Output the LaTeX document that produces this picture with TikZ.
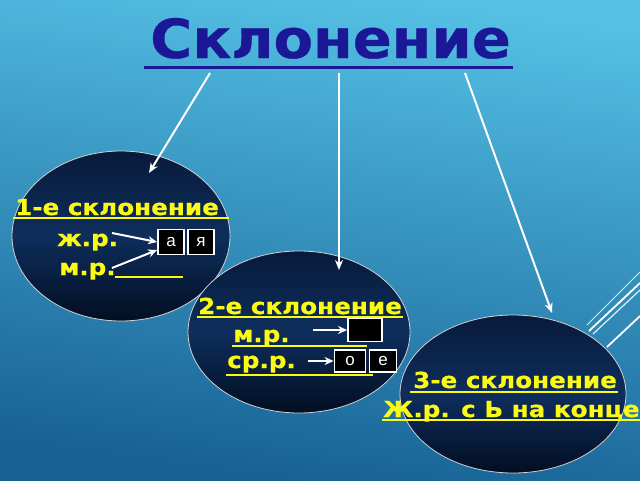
\documentclass[tikz,border=0pt]{standalone}
\usepackage{fontspec}
\setmainfont{DejaVu Sans}
\newfontfamily\titlefont{DejaVu Sans}[UprightFont={* Bold}, FakeStretch=1.065, FakeBold=0.6]
\newfontfamily\labelfont{DejaVu Sans}[UprightFont={* Bold}, FakeStretch=1.12, FakeBold=0.5]
\newfontfamily\boxfont{Liberation Sans}
\usetikzlibrary{arrows.meta,shapes.geometric}

\definecolor{skytop}{RGB}{84,192,228}
\definecolor{skybot}{RGB}{22,96,148}
\definecolor{navytop}{RGB}{8,26,58}
\definecolor{navymid}{RGB}{14,46,92}
\definecolor{navybot}{RGB}{3,14,34}
\definecolor{titleblue}{RGB}{26,24,150}
\definecolor{caseyellow}{RGB}{250,250,20}

\begin{document}
\begin{tikzpicture}[x=1pt,y=-1pt,
  caseoval/.style={ellipse, draw=gray!35, line width=0.8pt, inner sep=0pt, outer sep=0pt,
    top color=navytop, bottom color=navybot, middle color=navymid},
  caselabel/.style={anchor=base west, inner sep=0pt, text=caseyellow,
    font=\labelfont\fontsize{22}{22}\selectfont},
  letterbox/.style={draw=white, line width=1.8pt, fill=black, text=white, inner sep=0pt,
    font=\boxfont\fontsize{17}{17}\selectfont, minimum width=26pt, minimum height=25pt},
  whitearrow/.style={draw=white, line width=2pt, -{Stealth[length=10pt,width=8pt]}},
  smallarrow/.style={draw=white, line width=2pt, -{Stealth[length=9pt,width=8pt]}},
  blankline/.style={draw=caseyellow, line width=1.5pt}
]
% фон слайда
\useasboundingbox (0,0) rectangle (640,480);
\shade[top color=skytop, bottom color=skybot, shading angle=-8] (0,0) rectangle (640,480);
\draw[white!80!cyan, line width=0.8pt] (587,325) -- (640,272);
\draw[white, line width=1.8pt] (589,331) -- (640,283);
\draw[white!85!cyan, line width=1.2pt] (593,334) -- (640,290);
\draw[white, line width=1.8pt] (607,347) -- (640,316);

% заголовок
\node (title) [anchor=base west, inner sep=0pt, text=titleblue,
  font=\titlefont\fontsize{54}{54}\selectfont] at (150,58) {Склонение};
\draw[titleblue, line width=3pt] (144,67) -- (513,67);

% три склонения
\node (oval1) [caseoval, minimum width=218pt, minimum height=170pt] at (121,236) {};
\node (oval2) [caseoval, minimum width=222pt, minimum height=162pt] at (299,332) {};
\node (oval3) [caseoval, minimum width=226pt, minimum height=158pt] at (513,394) {};

\coordinate (from1) at (210,73);
\coordinate (from2) at (339,73);
\coordinate (from3) at (465,73);
\coordinate (to1) at (149,173);
\coordinate (to2) at (339,270);
\coordinate (to3) at (552,313);
\draw[whitearrow] (from1) -- (to1);
\draw[whitearrow] (from2) -- (to2);
\draw[whitearrow] (from3) -- (to3);

% 1-е склонение
\node (decl1) [caselabel] at (15,215) {1-е склонение};
\draw[blankline] (13,218) -- (229,218);
\node (fem1) [caselabel] at (57,246) {ж.р.};
\node (masc1) [caselabel] at (59,275) {м.р.};
\draw[blankline] (115,277) -- (183,277);
\node (endA) [letterbox] at (171,242) {а};
\node (endYa) [letterbox] at (201,242) {я};
\coordinate (f1) at (112,233);
\coordinate (m1) at (112,268);
\draw[smallarrow] (f1) -- ([yshift=0pt]endA.west);
\draw[smallarrow] (m1) -- ([yshift=-8pt]endA.west);

% 2-е склонение
\node (decl2) [caselabel] at (198,314) {2-е склонение};
\draw[blankline] (197,317) -- (403,317);
\node (masc2) [caselabel] at (233,342) {м.р.};
\draw[blankline] (232,346) -- (367,346);
\node (neut2) [caselabel] at (227,368) {ср.р.};
\draw[blankline] (226,375) -- (373,375);
\node (endZero) [letterbox, minimum width=34pt, minimum height=23pt] at (365,330) {};
\node (endO) [letterbox, minimum width=31pt, minimum height=22pt] at (350,361) {о};
\node (endE) [letterbox, minimum width=27pt, minimum height=22pt] at (383,361) {е};
\coordinate (m2) at (313,330);
\coordinate (n2) at (308,361);
\draw[smallarrow] (m2) -- (endZero.west);
\draw[smallarrow] (n2) -- (endO.west);

% 3-е склонение
\node (decl3) [caselabel] at (413,388) {3-е склонение};
\draw[blankline] (410,392) -- (618,392);
\node (fem3) [caselabel] at (383,417) {Ж.р. с Ь на конце};
\draw[blankline] (382,420) -- (640,420);
\end{tikzpicture}
\end{document}
